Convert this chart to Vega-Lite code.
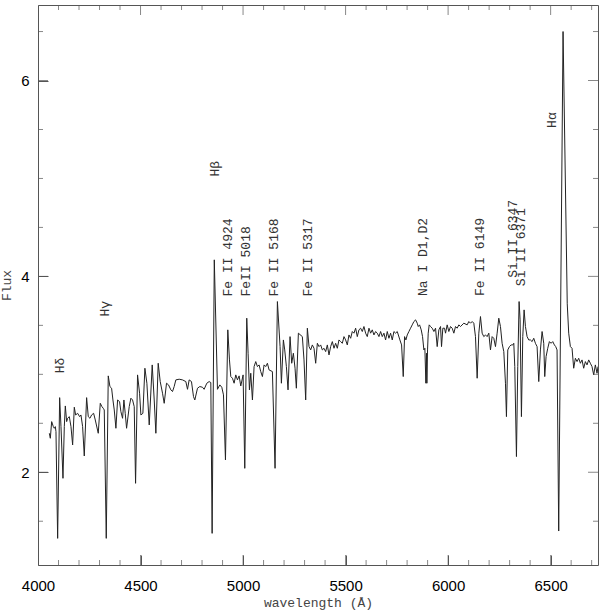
{
 "$schema": "https://vega.github.io/schema/vega-lite/v6.json",
 "width": 560, "height": 560,
 "autosize": {"type": "none"},
 "padding": {"left": 38, "top": 5, "right": 2, "bottom": 50},
 "background": "white",
 "config": {"view": {"stroke": "#555", "strokeWidth": 1}, "axis": {"grid": false}},
 "datasets": {
  "spec": [
{"w":4055.2,"f":2.398},{"w":4060.1,"f":2.347},{"w":4066.6,"f":2.517},{"w":4074.7,"f":2.466},{"w":4079.6,"f":2.449},{"w":4084.5,"f":2.466},{"w":4087.7,"f":2.415},{"w":4095.8,"f":1.325},{"w":4105.6,"f":2.762},{"w":4112.1,"f":2.466},{"w":4121.8,"f":1.938},{"w":4128.3,"f":2.466},{"w":4133.2,"f":2.677},{"w":4139.7,"f":2.517},{"w":4144.5,"f":2.551},{"w":4152.7,"f":2.568},{"w":4160.8,"f":2.466},{"w":4168.9,"f":2.279},{"w":4177.0,"f":2.664},{"w":4183.5,"f":2.585},{"w":4193.3,"f":2.602},{"w":4203.0,"f":2.568},{"w":4209.5,"f":2.585},{"w":4217.6,"f":2.466},{"w":4225.7,"f":2.166},{"w":4237.1,"f":2.762},{"w":4245.2,"f":2.568},{"w":4253.3,"f":2.551},{"w":4261.4,"f":2.585},{"w":4271.2,"f":2.602},{"w":4279.3,"f":2.534},{"w":4293.9,"f":2.398},{"w":4303.7,"f":2.704},{"w":4311.8,"f":2.670},{"w":4318.3,"f":2.653},{"w":4323.1,"f":2.636},{"w":4332.9,"f":1.325},{"w":4342.6,"f":2.984},{"w":4350.7,"f":2.875},{"w":4358.9,"f":2.858},{"w":4365.4,"f":2.738},{"w":4371.9,"f":2.636},{"w":4380.0,"f":2.449},{"w":4388.1,"f":2.738},{"w":4397.8,"f":2.721},{"w":4404.3,"f":2.619},{"w":4412.4,"f":2.551},{"w":4419.0,"f":2.738},{"w":4425.4,"f":2.602},{"w":4432.0,"f":2.449},{"w":4444.9,"f":2.670},{"w":4453.0,"f":2.756},{"w":4461.2,"f":2.738},{"w":4469.3,"f":2.670},{"w":4475.8,"f":1.887},{"w":4485.5,"f":2.994},{"w":4495.3,"f":2.807},{"w":4501.8,"f":2.585},{"w":4511.5,"f":2.602},{"w":4521.3,"f":3.062},{"w":4531.0,"f":2.909},{"w":4542.4,"f":2.483},{"w":4557.0,"f":3.096},{"w":4566.7,"f":2.738},{"w":4574.8,"f":2.398},{"w":4586.2,"f":3.113},{"w":4596.0,"f":2.926},{"w":4607.3,"f":2.807},{"w":4615.4,"f":2.704},{"w":4626.8,"f":2.909},{"w":4636.5,"f":2.892},{"w":4647.9,"f":2.841},{"w":4656.0,"f":2.824},{"w":4664.1,"f":2.875},{"w":4672.2,"f":2.943},{"w":4688.5,"f":2.950},{"w":4704.7,"f":2.943},{"w":4721.0,"f":2.926},{"w":4729.1,"f":2.847},{"w":4737.2,"f":2.943},{"w":4748.5,"f":2.926},{"w":4758.3,"f":2.773},{"w":4764.8,"f":2.738},{"w":4777.8,"f":2.858},{"w":4789.1,"f":2.875},{"w":4802.1,"f":2.868},{"w":4810.2,"f":2.847},{"w":4823.2,"f":2.909},{"w":4834.6,"f":2.926},{"w":4842.7,"f":2.916},{"w":4849.2,"f":1.376},{"w":4859.7,"f":4.169},{"w":4875.2,"f":2.847},{"w":4886.6,"f":2.892},{"w":4896.3,"f":2.868},{"w":4904.5,"f":2.790},{"w":4914.2,"f":2.126},{"w":4925.6,"f":3.454},{"w":4933.7,"f":3.147},{"w":4940.2,"f":2.977},{"w":4948.3,"f":2.960},{"w":4956.4,"f":2.909},{"w":4964.5,"f":2.994},{"w":4972.6,"f":2.943},{"w":4980.7,"f":2.984},{"w":4988.9,"f":2.881},{"w":5000.2,"f":2.994},{"w":5008.4,"f":2.040},{"w":5018.1,"f":3.573},{"w":5024.6,"f":3.215},{"w":5031.1,"f":2.841},{"w":5037.6,"f":3.011},{"w":5045.7,"f":2.738},{"w":5053.8,"f":3.079},{"w":5061.9,"f":3.130},{"w":5070.0,"f":3.079},{"w":5078.2,"f":3.096},{"w":5086.3,"f":3.028},{"w":5094.4,"f":2.977},{"w":5102.5,"f":3.096},{"w":5110.6,"f":3.079},{"w":5118.8,"f":3.113},{"w":5126.9,"f":3.045},{"w":5143.1,"f":3.028},{"w":5156.1,"f":2.040},{"w":5167.5,"f":3.743},{"w":5180.5,"f":3.283},{"w":5187.0,"f":2.909},{"w":5196.7,"f":3.351},{"w":5203.2,"f":3.249},{"w":5211.3,"f":3.079},{"w":5219.4,"f":2.841},{"w":5229.2,"f":3.385},{"w":5237.3,"f":3.113},{"w":5245.4,"f":3.215},{"w":5253.5,"f":3.062},{"w":5260.0,"f":2.858},{"w":5269.8,"f":3.420},
{"w":5289.2,"f":3.385},{"w":5297.3,"f":3.147},{"w":5305.5,"f":2.738},{"w":5313.6,"f":3.471},{"w":5321.7,"f":3.283},{"w":5329.8,"f":3.249},{"w":5337.9,"f":3.300},{"w":5346.0,"f":3.266},{"w":5354.2,"f":3.113},{"w":5362.3,"f":3.317},{"w":5370.4,"f":3.283},{"w":5378.5,"f":3.300},{"w":5386.6,"f":3.249},{"w":5394.8,"f":3.266},{"w":5402.9,"f":3.232},{"w":5411.0,"f":3.300},{"w":5419.1,"f":3.198},{"w":5427.2,"f":3.283},{"w":5435.4,"f":3.334},{"w":5443.5,"f":3.266},{"w":5451.6,"f":3.317},{"w":5459.7,"f":3.266},{"w":5467.8,"f":3.351},{"w":5475.9,"f":3.334},{"w":5484.1,"f":3.317},{"w":5492.2,"f":3.385},{"w":5500.3,"f":3.351},{"w":5508.4,"f":3.300},{"w":5516.5,"f":3.402},{"w":5524.7,"f":3.368},{"w":5532.8,"f":3.437},{"w":5540.9,"f":3.420},{"w":5549.0,"f":3.471},{"w":5557.1,"f":3.385},{"w":5565.2,"f":3.454},{"w":5573.4,"f":3.471},{"w":5581.5,"f":3.437},{"w":5589.6,"f":3.488},{"w":5597.7,"f":3.420},{"w":5605.8,"f":3.385},{"w":5614.0,"f":3.471},{"w":5622.1,"f":3.420},{"w":5630.2,"f":3.454},{"w":5638.3,"f":3.402},{"w":5646.4,"f":3.437},{"w":5654.6,"f":3.420},{"w":5662.7,"f":3.385},{"w":5670.8,"f":3.437},{"w":5678.9,"f":3.385},{"w":5687.0,"f":3.420},{"w":5695.1,"f":3.351},{"w":5703.3,"f":3.437},{"w":5711.4,"f":3.368},{"w":5719.5,"f":3.420},{"w":5727.6,"f":3.351},{"w":5735.7,"f":3.437},{"w":5743.9,"f":3.420},{"w":5752.0,"f":3.437},{"w":5764.9,"f":3.351},{"w":5773.1,"f":3.300},{"w":5781.2,"f":2.977},{"w":5787.7,"f":3.385},{"w":5794.2,"f":3.351},{"w":5800.7,"f":3.402},{"w":5808.8,"f":3.437},{"w":5816.9,"f":3.471},{"w":5825.0,"f":3.505},{"w":5833.2,"f":3.539},{"w":5841.3,"f":3.556},{"w":5849.4,"f":3.522},{"w":5854.3,"f":3.488},{"w":5860.8,"f":3.505},{"w":5868.9,"f":3.454},{"w":5875.4,"f":3.385},{"w":5881.9,"f":3.249},{"w":5886.7,"f":3.266},{"w":5891.6,"f":2.909},{"w":5894.9,"f":3.215},{"w":5896.5,"f":2.909},{"w":5899.7,"f":3.249},{"w":5903.0,"f":3.420},{"w":5907.8,"f":3.505},{"w":5914.3,"f":3.488},{"w":5922.5,"f":3.471},{"w":5930.6,"f":3.437},{"w":5938.7,"f":3.471},{"w":5946.8,"f":3.283},{"w":5954.9,"f":3.454},{"w":5963.1,"f":3.488},{"w":5967.9,"f":3.283},{"w":5974.4,"f":3.471},{"w":5982.5,"f":3.471},{"w":5987.4,"f":3.420},{"w":5995.5,"f":3.505},{"w":6003.6,"f":3.437},{"w":6011.8,"f":3.488},{"w":6019.9,"f":3.471},{"w":6028.0,"f":3.420},{"w":6036.1,"f":3.488},{"w":6044.2,"f":3.471},{"w":6052.4,"f":3.505},{"w":6060.5,"f":3.488},{"w":6076.7,"f":3.522},{"w":6092.9,"f":3.505},{"w":6101.1,"f":3.539},{"w":6109.2,"f":3.522},{"w":6117.3,"f":3.539},{"w":6125.4,"f":3.522},{"w":6133.5,"f":3.385},{"w":6141.7,"f":2.960},{"w":6149.8,"f":3.420},{"w":6157.9,"f":3.590},{"w":6166.0,"f":3.420},{"w":6174.1,"f":3.385},{"w":6182.3,"f":3.402},{"w":6190.4,"f":3.385},{"w":6198.5,"f":3.420},{"w":6206.6,"f":3.249},{"w":6214.7,"f":3.385},{"w":6222.8,"f":3.368},{"w":6231.0,"f":3.283},{"w":6239.1,"f":3.420},{"w":6247.2,"f":3.573},{"w":6255.3,"f":3.488},{"w":6263.4,"f":3.317},{"w":6271.6,"f":3.232},{"w":6279.7,"f":2.909},{"w":6284.5,"f":2.568},{"w":6291.0,"f":3.249},{"w":6299.1,"f":3.283},{"w":6307.3,"f":3.300},{"w":6315.4,"f":3.300},{"w":6320.3,"f":3.317},{"w":6325.1,"f":3.079},{"w":6333.3,"f":2.160},{"w":6339.7,"f":3.079},{"w":6346.2,"f":3.743},{"w":6351.1,"f":3.556},{"w":6357.6,"f":2.568},{"w":6364.1,"f":3.385},{"w":6370.6,"f":3.658},{"w":6377.1,"f":3.488},{"w":6385.2,"f":3.385},{"w":6393.3,"f":3.351},{"w":6401.5,"f":3.351},{"w":6409.6,"f":3.334},{"w":6417.7,"f":3.368},{"w":6425.8,"f":3.317},{"w":6433.9,"f":3.283},{"w":6442.1,"f":2.926},{"w":6450.2,"f":3.249},{"w":6458.3,"f":3.437},{"w":6466.4,"f":3.317},{"w":6471.3,"f":2.977},{"w":6477.8,"f":3.181},{"w":6485.9,"f":3.266},{"w":6494.0,"f":3.334},{"w":6502.1,"f":3.317},{"w":6510.3,"f":3.334},{"w":6518.4,"f":3.300},{"w":6524.8,"f":3.283},{"w":6531.3,"f":3.249},{"w":6539.4,"f":1.400},{"w":6560.6,"f":6.500},{"w":6581.0,"f":3.720},{"w":6588.2,"f":3.420},{"w":6596.3,"f":3.283},{"w":6604.4,"f":3.266},{"w":6612.5,"f":3.062},{"w":6620.7,"f":3.164},{"w":6628.8,"f":3.130},{"w":6636.9,"f":3.164},{"w":6645.0,"f":3.113},{"w":6653.1,"f":3.147},{"w":6661.2,"f":3.062},{"w":6669.4,"f":3.130},{"w":6677.5,"f":3.096},{"w":6685.6,"f":3.147},{"w":6693.7,"f":3.113},{"w":6701.8,"f":3.079},{"w":6710.0,"f":2.994},{"w":6718.1,"f":3.096},{"w":6726.2,"f":3.011},{"w":6731.1,"f":3.079}
  ],
  "lines": [
   {"label": "Hδ", "w": 4107, "f": 3.01},
   {"label": "Hγ", "w": 4327, "f": 3.59},
   {"label": "Hβ", "w": 4861, "f": 5.02},
   {"label": "Fe II 4924", "w": 4927, "f": 3.795},
   {"label": "FeII 5018", "w": 5014, "f": 3.795},
   {"label": "Fe II 5168", "w": 5153, "f": 3.795},
   {"label": "Fe II 5317", "w": 5317, "f": 3.795},
   {"label": "Na I D1,D2", "w": 5878, "f": 3.80},
   {"label": "Fe II 6149", "w": 6156, "f": 3.80},
   {"label": "Si II 6347", "w": 6317, "f": 3.985},
   {"label": "Si II 6371", "w": 6356, "f": 3.90},
   {"label": "Hα", "w": 6509, "f": 5.516}
  ],
  "xmaj": [{"v": 4000}, {"v": 4500}, {"v": 5000}, {"v": 5500}, {"v": 6000}, {"v": 6500}],
  "xmin": [{"v": 4100}, {"v": 4200}, {"v": 4300}, {"v": 4400}, {"v": 4600}, {"v": 4700}, {"v": 4800}, {"v": 4900}, {"v": 5100}, {"v": 5200}, {"v": 5300}, {"v": 5400}, {"v": 5600}, {"v": 5700}, {"v": 5800}, {"v": 5900}, {"v": 6100}, {"v": 6200}, {"v": 6300}, {"v": 6400}, {"v": 6600}, {"v": 6700}],
  "ymaj": [{"v": 2}, {"v": 4}, {"v": 6}],
  "ymin": [{"v": 1.5}, {"v": 2.5}, {"v": 3}, {"v": 3.5}, {"v": 4.5}, {"v": 5}, {"v": 5.5}, {"v": 6.5}]
 },
 "layer": [
  {
   "data": {"name": "spec"},
   "mark": {"type": "line", "color": "#222", "strokeWidth": 1, "clip": true},
   "encoding": {
    "x": {"field": "w", "type": "quantitative",
     "scale": {"domain": [4000, 6731], "nice": false, "zero": false},
     "axis": {"orient": "bottom", "values": [4000,4500,5000,5500,6000,6500], "format": "d",
      "offset": -10, "ticks": true, "tickSize": 10, "tickWidth": 1, "tickOpacity": 1, "domain": false,
      "tickColor": "#555", "labelFont": "Liberation Sans", "labelFontSize": 15, "labelColor": "#000",
      "labelPadding": 13, "labelFlush": false, "labelOverlap": false,
      "title": "wavelength (Å)", "titleFont": "Liberation Mono", "titleFontSize": 13, "titleFontWeight": "normal", "titleColor": "#444", "titlePadding": 3}},
    "y": {"field": "f", "type": "quantitative",
     "scale": {"domain": [1.053, 6.771], "nice": false, "zero": false},
     "axis": {"orient": "left", "values": [2, 4, 6], "format": "d",
      "offset": -10, "ticks": true, "tickSize": 10, "tickWidth": 1, "tickOpacity": 1, "domain": false,
      "tickColor": "#555", "labelFont": "Liberation Sans", "labelFontSize": 15, "labelColor": "#000",
      "labelPadding": 9, "labelFlush": false, "labelOverlap": false,
      "title": "Flux", "titleFont": "Liberation Mono", "titleFontSize": 13, "titleFontWeight": "normal", "titleColor": "#444", "titlePadding": 7}}
   }
  },
  {
   "data": {"name": "lines"},
   "mark": {"type": "text", "angle": 270, "align": "left", "baseline": "middle", "font": "Liberation Mono", "fontSize": 13, "color": "#333"},
   "encoding": {
    "x": {"field": "w", "type": "quantitative"},
    "y": {"field": "f", "type": "quantitative"},
    "text": {"field": "label"}
   }
  },
  {
   "data": {"name": "xmaj"},
   "mark": {"type": "tick", "orient": "vertical", "size": 20, "thickness": 1, "color": "#555", "clip": true},
   "encoding": {"x": {"field": "v", "type": "quantitative"}, "y": {"datum": 1.053, "type": "quantitative"}}
  },
  {
   "data": {"name": "xmaj"},
   "mark": {"type": "tick", "orient": "vertical", "size": 20, "thickness": 1, "color": "#555", "clip": true},
   "encoding": {"x": {"field": "v", "type": "quantitative"}, "y": {"datum": 6.771, "type": "quantitative"}}
  },
  {
   "data": {"name": "xmin"},
   "mark": {"type": "tick", "orient": "vertical", "size": 10, "thickness": 1, "color": "#555", "clip": true},
   "encoding": {"x": {"field": "v", "type": "quantitative"}, "y": {"datum": 1.053, "type": "quantitative"}}
  },
  {
   "data": {"name": "xmin"},
   "mark": {"type": "tick", "orient": "vertical", "size": 10, "thickness": 1, "color": "#555", "clip": true},
   "encoding": {"x": {"field": "v", "type": "quantitative"}, "y": {"datum": 6.771, "type": "quantitative"}}
  },
  {
   "data": {"name": "ymaj"},
   "mark": {"type": "tick", "orient": "horizontal", "size": 20, "thickness": 1, "color": "#555", "clip": true},
   "encoding": {"y": {"field": "v", "type": "quantitative"}, "x": {"datum": 4000, "type": "quantitative"}}
  },
  {
   "data": {"name": "ymaj"},
   "mark": {"type": "tick", "orient": "horizontal", "size": 20, "thickness": 1, "color": "#555", "clip": true},
   "encoding": {"y": {"field": "v", "type": "quantitative"}, "x": {"datum": 6731, "type": "quantitative"}}
  },
  {
   "data": {"name": "ymin"},
   "mark": {"type": "tick", "orient": "horizontal", "size": 10, "thickness": 1, "color": "#555", "clip": true},
   "encoding": {"y": {"field": "v", "type": "quantitative"}, "x": {"datum": 4000, "type": "quantitative"}}
  },
  {
   "data": {"name": "ymin"},
   "mark": {"type": "tick", "orient": "horizontal", "size": 10, "thickness": 1, "color": "#555", "clip": true},
   "encoding": {"y": {"field": "v", "type": "quantitative"}, "x": {"datum": 6731, "type": "quantitative"}}
  }
 ]
}
